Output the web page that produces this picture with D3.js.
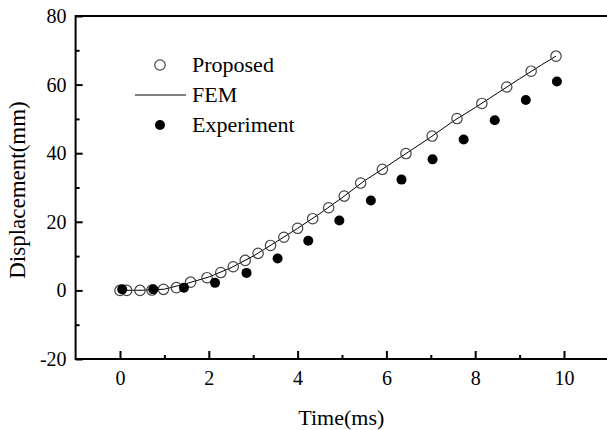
<!DOCTYPE html>
<html>
<head>
<meta charset="utf-8">
<script src="https://cdn.jsdelivr.net/npm/d3@7"></script>
<style>
  html, body { margin: 0; padding: 0; background: #fff; }
  svg { display: block; font-family: "Liberation Serif", "Times New Roman", serif; }
</style>
</head>
<body>
<svg id="chart" width="607" height="430"></svg>
<script>
// values
var proposedX = [0, 0.15, 0.45, 0.72, 0.98, 1.27, 1.59, 1.96, 2.27, 2.55, 2.82, 3.11, 3.39, 3.69, 4.0, 4.34, 4.7, 5.05, 5.42, 5.91, 6.44, 7.03, 7.59, 8.15, 8.71, 9.26, 9.82];
var proposedY = [0, 0, 0, 0.1, 0.3, 0.8, 2.4, 3.7, 5.2, 6.9, 8.75, 10.8, 13.1, 15.5, 18.1, 20.9, 24.1, 27.5, 31.3, 35.3, 39.9, 45.0, 50.1, 54.5, 59.3, 63.9, 68.3];

var femX = [0, 0.5, 1.0, 1.5, 2.0, 2.5, 3.0, 3.5, 4.0, 4.5, 5.0, 5.5, 6.0, 6.5, 7.0, 7.5, 8.0, 8.5, 9.0, 9.5, 9.82];
var femY = [0, 0.05, 0.35, 2.0, 3.9, 6.6, 10.0, 14.0, 18.1, 22.4, 27.0, 31.9, 36.1, 40.4, 44.7, 49.3, 53.3, 57.5, 61.7, 65.8, 68.3];

var expX = [0.05, 0.75, 1.44, 2.14, 2.85, 3.55, 4.24, 4.94, 5.65, 6.34, 7.04, 7.74, 8.44, 9.14, 9.84];
var expY = [0.3, 0.3, 0.8, 2.2, 5.1, 9.3, 14.5, 20.4, 26.2, 32.3, 38.2, 44.0, 49.6, 55.5, 60.9];

var xTicks = [0, 2, 4, 6, 8, 10];
var xMinor = [1, 3, 5, 7, 9];
var yTicks = [-20, 0, 20, 40, 60, 80];
var yMinor = [-10, 10, 30, 50, 70];

var legendNames = ["Proposed", "FEM", "Experiment"];

var svg = d3.select('#chart');

var x = d3.scaleLinear().domain([-1, 11]).range([75.6, 608.4]);
var y = d3.scaleLinear().domain([-20, 80]).range([359, 16]);

// minor ticks first
svg.append("g")
  .attr("transform", "translate(0," + y(-20) + ")")
  .call(d3.axisBottom(x).tickValues(xMinor).tickSize(-4).tickFormat(""))
  .call(function(g) { g.select(".domain").remove(); })
  .selectAll("line").attr("stroke", "#000").attr("stroke-width", 2);

svg.append("g")
  .attr("transform", "translate(" + x(-1) + ",0)")
  .call(d3.axisLeft(y).tickValues(yMinor).tickSize(-4).tickFormat(""))
  .call(function(g) { g.select(".domain").remove(); })
  .selectAll("line").attr("stroke", "#000").attr("stroke-width", 2);

// major ticks + labels (plain hyphen for negatives)
var xAxis = svg.append("g")
  .attr("transform", "translate(0," + y(-20) + ")")
  .call(d3.axisBottom(x).tickValues(xTicks).tickSize(-8).tickPadding(12).tickFormat(String));
xAxis.select(".domain").remove();
xAxis.selectAll("line").attr("stroke", "#000").attr("stroke-width", 2);
xAxis.selectAll("text")
  .style("font-family", "Liberation Serif, serif")
  .style("font-size", "20px")
  .attr("fill", "#000");

var yAxis = svg.append("g")
  .attr("transform", "translate(" + x(-1) + ",0)")
  .call(d3.axisLeft(y).tickValues(yTicks).tickSize(-7).tickPadding(9).tickFormat(String));
yAxis.select(".domain").remove();
yAxis.selectAll("line").attr("stroke", "#000").attr("stroke-width", 2);
yAxis.selectAll("text")
  .style("font-family", "Liberation Serif, serif")
  .style("font-size", "20px")
  .attr("fill", "#000");

// frame lines: left, bottom, top
svg.append("line")
  .attr("x1", x(-1)).attr("x2", x(-1))
  .attr("y1", y(80) - 1).attr("y2", y(-20) + 1)
  .attr("stroke", "#000").attr("stroke-width", 2);
svg.append("line")
  .attr("x1", x(-1)).attr("x2", 607)
  .attr("y1", y(-20)).attr("y2", y(-20))
  .attr("stroke", "#000").attr("stroke-width", 2);
svg.append("line")
  .attr("x1", x(-1)).attr("x2", 607)
  .attr("y1", y(80)).attr("y2", y(80))
  .attr("stroke", "#000").attr("stroke-width", 2);

// FEM line
var fem = femX.map(function(d, i) { return [d, femY[i]]; });
svg.append("path")
  .datum(fem)
  .attr("d", d3.line().x(function(d) { return x(d[0]); }).y(function(d) { return y(d[1]); }))
  .attr("fill", "none")
  .attr("stroke", "#000")
  .attr("stroke-width", 1);

// Proposed (open circles)
svg.selectAll("circle.proposed")
  .data(proposedX)
  .enter().append("circle")
  .attr("class", "proposed")
  .attr("cx", function(d) { return x(d); })
  .attr("cy", function(d, i) { return y(proposedY[i]); })
  .attr("r", 5.2)
  .attr("fill", "none")
  .attr("stroke", "#444")
  .attr("stroke-width", 1.2);

// Experiment (filled)
svg.selectAll("circle.exp")
  .data(expX)
  .enter().append("circle")
  .attr("class", "exp")
  .attr("cx", function(d) { return x(d); })
  .attr("cy", function(d, i) { return y(expY[i]); })
  .attr("r", 5)
  .attr("fill", "#000");

// legend
var leg = svg.append("g");
leg.append("circle")
  .attr("cx", 160).attr("cy", 65).attr("r", 5.2)
  .attr("fill", "none").attr("stroke", "#444").attr("stroke-width", 1.2);
leg.append("line")
  .attr("x1", 135).attr("x2", 186).attr("y1", 95).attr("y2", 95)
  .attr("stroke", "#000").attr("stroke-width", 1);
leg.append("circle")
  .attr("cx", 160).attr("cy", 125).attr("r", 5)
  .attr("fill", "#000");
leg.selectAll("text")
  .data(legendNames)
  .enter().append("text")
  .attr("x", 192)
  .attr("y", function(d, i) { return 72 + i * 30; })
  .style("font-size", "22px")
  .attr("fill", "#000")
  .text(function(d) { return d; });

// axis titles
svg.append("text")
  .attr("x", (x(-1) + 607) / 2)
  .attr("y", 425)
  .attr("text-anchor", "middle")
  .style("font-size", "22px")
  .text("Time(ms)");

svg.append("text")
  .attr("transform", "translate(25,190) rotate(-90)")
  .attr("text-anchor", "middle")
  .style("font-size", "23px")
  .text("Displacement(mm)");
</script>
</body>
</html>
